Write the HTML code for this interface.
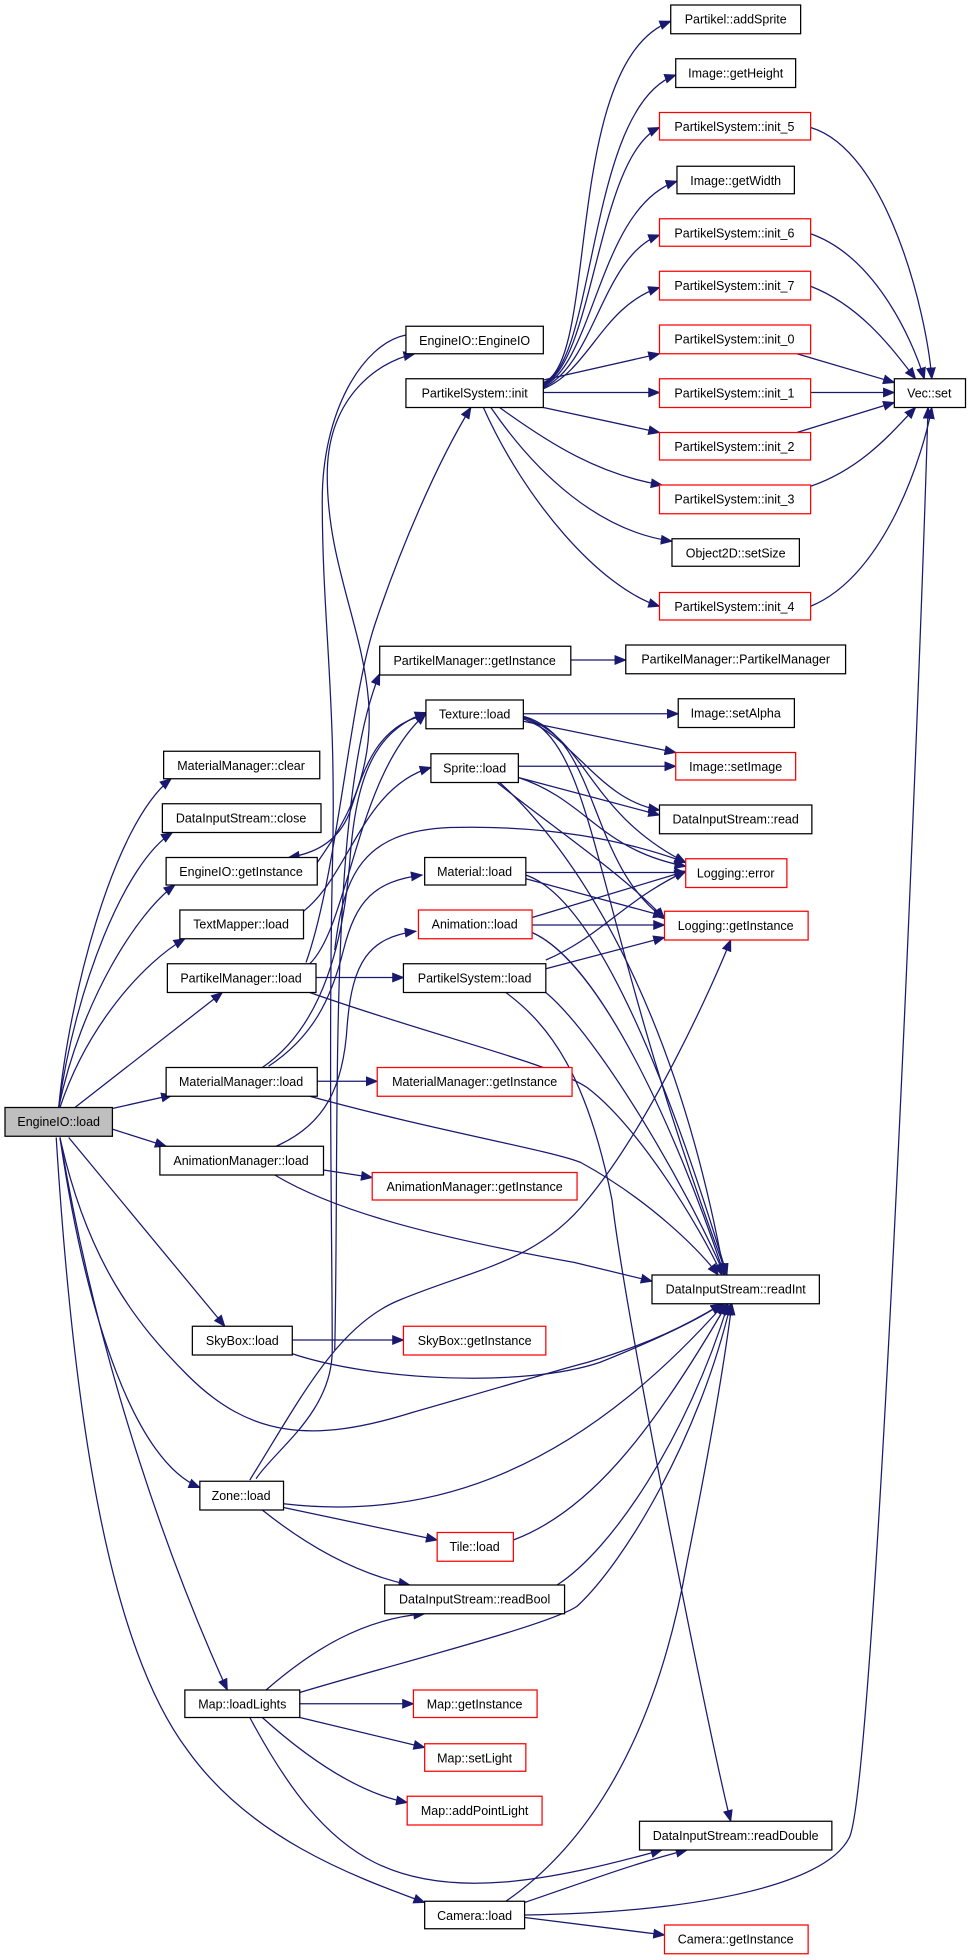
<!DOCTYPE html>
<html><head><meta charset="utf-8"><style>
html,body{margin:0;padding:0;background:#fff;}
svg{display:block;}
text{font-family:"Liberation Sans",sans-serif;font-size:10px;fill:#000;}
</style></head><body>
<svg width="968" height="1960" viewBox="0 0 775 1568" preserveAspectRatio="none" xmlns="http://www.w3.org/2000/svg">
<defs><marker id="a" markerUnits="userSpaceOnUse" markerWidth="10" markerHeight="8" refX="9" refY="4" orient="auto"><path d="M0,0 L10,4 L0,8 z" fill="#191970"/></marker></defs>
<g fill="none" stroke="#191970" stroke-width="1" marker-end="url(#a)">
<path d="M435,306 C480,290 450,50 537,17"/>
<path d="M435,307 C478,290 470,85 541,60"/>
<path d="M435,308 C476,290 478,125 528,102"/>
<path d="M435,309 C476,290 480,165 542,145"/>
<path d="M435,310 C476,292 482,205 528,188"/>
<path d="M435,311 C472,296 482,245 528,230"/>
<path d="M435,304 L528,283"/>
<path d="M435,314 L528,314"/>
<path d="M435,326 L528,346"/>
<path d="M400,326 C440,355 480,380 530,388"/>
<path d="M393,326 C430,380 480,425 538,433"/>
<path d="M387,326 C420,400 480,470 528,485"/>
<path d="M649,102 C710,120 742,250 746,303"/>
<path d="M649,187 C700,205 730,270 740,303"/>
<path d="M649,229 C690,245 715,280 733,303"/>
<path d="M638,283 L716,306"/>
<path d="M649,314 L716,314"/>
<path d="M638,346 L716,322"/>
<path d="M649,389 C690,375 715,345 733,326"/>
<path d="M649,485 C710,460 740,360 746,326"/>
<path d="M420,1532 C550,1530 660,1510 680,1470 C700,1430 735,600 743,326"/>
<path d="M47,886 C55,800 90,660 137,623"/>
<path d="M47,886 C60,790 100,690 138,666"/>
<path d="M47,886 C65,800 110,730 140,708"/>
<path d="M48,886 C70,820 115,770 148,751"/>
<path d="M60,886 L178,794"/>
<path d="M89,887 L138,876"/>
<path d="M89,903 L133,917"/>
<path d="M55,910 L180,1061"/>
<path d="M48,910 C70,1010 110,1060 150,1100 C200,1150 250,1155 330,1130 C400,1110 450,1095 470,1090 C520,1075 550,1060 578,1043"/>
<path d="M48,910 C70,1060 110,1170 160,1190"/>
<path d="M48,910 C80,1100 140,1260 182,1352"/>
<path d="M45,910 C60,1150 90,1320 150,1400 C200,1470 280,1500 340,1522"/>
<path d="M254,690 C275,660 300,620 295,560 C290,500 262,450 262,380 C262,320 300,290 332,283"/>
<path d="M325,268 C290,275 258,330 258,400 C258,500 270,560 266,700 C263,850 266,1000 266,1080 C266,1130 220,1160 205,1183" marker-end="none"/>
<path d="M200,1184 C240,1120 270,1060 320,1040 C380,1015 430,1010 470,960 C520,900 570,790 585,752"/>
<path d="M341,572 C300,580 290,620 280,650 C270,675 250,683 231,686"/>
<path d="M248,771 C280,740 285,620 341,571"/>
<path d="M210,854 C260,820 275,750 280,690 C285,620 300,585 341,570"/>
<path d="M243,729 C280,700 290,630 345,614"/>
<path d="M268,1080 C272,900 262,640 304,539"/>
<path d="M215,853 C250,830 265,800 275,760 C285,720 300,705 338,700"/>
<path d="M221,917 C260,900 275,870 278,820 C282,770 295,750 333,745"/>
<path d="M268,760 C275,700 290,665 360,662 C440,660 500,672 549,690"/>
<path d="M245,770 C270,700 280,560 300,500 C320,440 350,370 377,326"/>
<path d="M253,782 L323,782"/>
<path d="M248,794 C350,830 440,850 470,870 C510,900 560,980 578,1020"/>
<path d="M254,865 L302,865"/>
<path d="M248,877 C350,905 440,920 465,930 C520,960 560,1000 575,1020"/>
<path d="M259,936 L298,942"/>
<path d="M220,940 C270,970 350,990 460,1010 L522,1025"/>
<path d="M234,1072 L323,1072"/>
<path d="M234,1083 C300,1105 420,1110 480,1090 C530,1070 560,1055 578,1043"/>
<path d="M227,1203 C330,1215 450,1190 580,1043"/>
<path d="M227,1206 L350,1232"/>
<path d="M210,1208 C250,1240 290,1260 328,1268"/>
<path d="M411,1232 C470,1210 520,1150 582,1043"/>
<path d="M446,1268 C490,1240 550,1150 583,1043"/>
<path d="M213,1352 C250,1320 290,1295 340,1291"/>
<path d="M240,1354 C320,1330 440,1300 462,1285 C500,1250 560,1150 585,1043"/>
<path d="M240,1363 L331,1363"/>
<path d="M240,1374 L340,1398"/>
<path d="M210,1374 C250,1410 290,1435 326,1442"/>
<path d="M200,1374 C230,1430 260,1470 300,1490 C360,1520 440,1505 530,1480"/>
<path d="M405,1521 C450,1490 520,1420 550,1250 C570,1150 580,1090 586,1043"/>
<path d="M420,1522 C470,1505 510,1490 550,1480"/>
<path d="M420,1534 L532,1548"/>
<path d="M405,794 C440,820 470,860 490,960 C500,1050 570,1400 585,1457"/>
<path d="M437,794 C480,830 550,950 580,1020"/>
<path d="M437,775 L532,750"/>
<path d="M437,768 C480,750 500,720 549,697"/>
<path d="M426,734 L549,697"/>
<path d="M426,740 L532,740"/>
<path d="M426,746 C480,770 540,900 580,1020"/>
<path d="M421,698 L549,698"/>
<path d="M421,703 L532,733"/>
<path d="M421,700 C480,720 540,880 582,1020"/>
<path d="M415,613 L541,613"/>
<path d="M415,622 L528,652"/>
<path d="M415,622 C470,640 480,680 549,693"/>
<path d="M398,626 C440,660 500,700 532,735"/>
<path d="M400,626 C460,680 540,800 580,1020"/>
<path d="M419,571 L543,571"/>
<path d="M419,577 L541,602"/>
<path d="M419,575 C460,590 480,640 528,648"/>
<path d="M419,574 C470,590 470,650 549,690"/>
<path d="M419,573 C480,590 470,690 532,735"/>
<path d="M419,573 C480,600 470,720 582,1020"/>
<path d="M457,528 L501,528"/>
</g>
<g stroke-width="1" fill="#fff">
<rect x="4" y="886" width="86" height="23" fill="#bfbfbf" stroke="#000"/>
<rect x="131" y="601" width="125" height="22" stroke="#000"/>
<rect x="130" y="643" width="127" height="23" stroke="#000"/>
<rect x="133" y="686" width="121" height="22" stroke="#000"/>
<rect x="144" y="728" width="99" height="23" stroke="#000"/>
<rect x="134" y="771" width="119" height="23" stroke="#000"/>
<rect x="133" y="854" width="121" height="23" stroke="#000"/>
<rect x="128" y="917" width="131" height="23" stroke="#000"/>
<rect x="154" y="1061" width="80" height="23" stroke="#000"/>
<rect x="160" y="1185" width="67" height="23" stroke="#000"/>
<rect x="148" y="1352" width="92" height="22" stroke="#000"/>
<rect x="325" y="261" width="110" height="22" stroke="#000"/>
<rect x="325" y="303" width="110" height="23" stroke="#000"/>
<rect x="304" y="517" width="153" height="23" stroke="#000"/>
<rect x="341" y="560" width="78" height="23" stroke="#000"/>
<rect x="345" y="603" width="70" height="23" stroke="#000"/>
<rect x="340" y="686" width="81" height="22" stroke="#000"/>
<rect x="335" y="728" width="91" height="23" stroke="#f00"/>
<rect x="323" y="771" width="114" height="23" stroke="#000"/>
<rect x="302" y="854" width="156" height="23" stroke="#f00"/>
<rect x="298" y="938" width="164" height="22" stroke="#f00"/>
<rect x="323" y="1061" width="114" height="23" stroke="#f00"/>
<rect x="350" y="1226" width="61" height="23" stroke="#f00"/>
<rect x="308" y="1268" width="144" height="23" stroke="#000"/>
<rect x="331" y="1352" width="99" height="22" stroke="#f00"/>
<rect x="340" y="1395" width="81" height="22" stroke="#f00"/>
<rect x="326" y="1437" width="108" height="23" stroke="#f00"/>
<rect x="340" y="1521" width="80" height="22" stroke="#000"/>
<rect x="537" y="4" width="104" height="23" stroke="#000"/>
<rect x="541" y="47" width="96" height="23" stroke="#000"/>
<rect x="528" y="90" width="121" height="22" stroke="#f00"/>
<rect x="542" y="133" width="94" height="22" stroke="#000"/>
<rect x="528" y="175" width="121" height="22" stroke="#f00"/>
<rect x="528" y="217" width="121" height="23" stroke="#f00"/>
<rect x="528" y="260" width="121" height="23" stroke="#f00"/>
<rect x="528" y="303" width="121" height="23" stroke="#f00"/>
<rect x="528" y="346" width="121" height="22" stroke="#f00"/>
<rect x="528" y="388" width="121" height="23" stroke="#f00"/>
<rect x="538" y="431" width="102" height="22" stroke="#000"/>
<rect x="528" y="474" width="121" height="22" stroke="#f00"/>
<rect x="716" y="303" width="57" height="23" stroke="#000"/>
<rect x="501" y="516" width="176" height="23" stroke="#000"/>
<rect x="543" y="559" width="93" height="23" stroke="#000"/>
<rect x="541" y="602" width="96" height="22" stroke="#f00"/>
<rect x="528" y="644" width="122" height="23" stroke="#000"/>
<rect x="549" y="687" width="81" height="23" stroke="#f00"/>
<rect x="532" y="729" width="115" height="23" stroke="#f00"/>
<rect x="522" y="1020" width="134" height="23" stroke="#000"/>
<rect x="512" y="1457" width="154" height="23" stroke="#000"/>
<rect x="532" y="1540" width="115" height="23" stroke="#f00"/>
</g>
<g text-anchor="middle">
<text x="47" y="901">EngineIO::load</text>
<text x="193" y="616">MaterialManager::clear</text>
<text x="193" y="658">DataInputStream::close</text>
<text x="193" y="701">EngineIO::getInstance</text>
<text x="193" y="743">TextMapper::load</text>
<text x="193" y="786">PartikelManager::load</text>
<text x="193" y="869">MaterialManager::load</text>
<text x="193" y="932">AnimationManager::load</text>
<text x="194" y="1076">SkyBox::load</text>
<text x="193" y="1200">Zone::load</text>
<text x="194" y="1367">Map::loadLights</text>
<text x="380" y="276">EngineIO::EngineIO</text>
<text x="380" y="318">PartikelSystem::init</text>
<text x="380" y="532">PartikelManager::getInstance</text>
<text x="380" y="575">Texture::load</text>
<text x="380" y="618">Sprite::load</text>
<text x="380" y="701">Material::load</text>
<text x="380" y="743">Animation::load</text>
<text x="380" y="786">PartikelSystem::load</text>
<text x="380" y="869">MaterialManager::getInstance</text>
<text x="380" y="953">AnimationManager::getInstance</text>
<text x="380" y="1076">SkyBox::getInstance</text>
<text x="380" y="1241">Tile::load</text>
<text x="380" y="1283">DataInputStream::readBool</text>
<text x="380" y="1367">Map::getInstance</text>
<text x="380" y="1410">Map::setLight</text>
<text x="380" y="1452">Map::addPointLight</text>
<text x="380" y="1536">Camera::load</text>
<text x="589" y="19">Partikel::addSprite</text>
<text x="589" y="62">Image::getHeight</text>
<text x="588" y="105">PartikelSystem::init_5</text>
<text x="589" y="148">Image::getWidth</text>
<text x="588" y="190">PartikelSystem::init_6</text>
<text x="588" y="232">PartikelSystem::init_7</text>
<text x="588" y="275">PartikelSystem::init_0</text>
<text x="588" y="318">PartikelSystem::init_1</text>
<text x="588" y="361">PartikelSystem::init_2</text>
<text x="588" y="403">PartikelSystem::init_3</text>
<text x="589" y="446">Object2D::setSize</text>
<text x="588" y="489">PartikelSystem::init_4</text>
<text x="744" y="318">Vec::set</text>
<text x="589" y="531">PartikelManager::PartikelManager</text>
<text x="589" y="574">Image::setAlpha</text>
<text x="589" y="617">Image::setImage</text>
<text x="589" y="659">DataInputStream::read</text>
<text x="589" y="702">Logging::error</text>
<text x="589" y="744">Logging::getInstance</text>
<text x="589" y="1035">DataInputStream::readInt</text>
<text x="589" y="1472">DataInputStream::readDouble</text>
<text x="589" y="1555">Camera::getInstance</text>
</g>
</svg>
</body></html>
